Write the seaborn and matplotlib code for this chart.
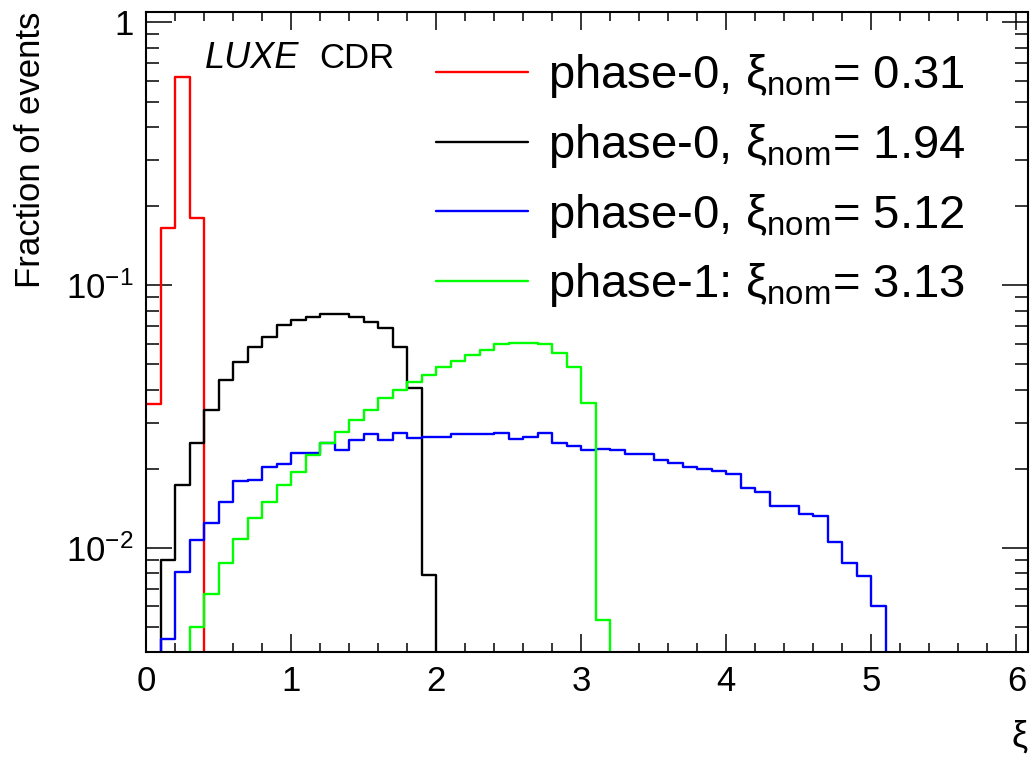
import numpy as np
import pandas as pd
import matplotlib
matplotlib.use("Agg")
import matplotlib.pyplot as plt
import seaborn as sns
from matplotlib.ticker import FixedLocator, FixedFormatter, MultipleLocator, LogLocator, NullFormatter

# xi histograms, bin width 0.1, values = fraction of events per bin
bin_width = 0.1
x_max = 6.08

red_start = 0.0
red_frac = [0.0353, 0.165, 0.62, 0.18]

black_start = 0.1
black_frac = [0.0090, 0.0174, 0.0251, 0.0335, 0.0435, 0.0510, 0.0581, 0.0634, 0.0704,
              0.0736, 0.0755, 0.0776, 0.0776, 0.0755, 0.0723, 0.0687, 0.0581, 0.0406, 0.0079]

blue_start = 0.1
blue_frac = [0.0045, 0.0081, 0.0107, 0.0125, 0.0150, 0.0180, 0.0182, 0.0203, 0.0209,
             0.0230, 0.0230, 0.0251, 0.0237, 0.0258, 0.0271, 0.0257, 0.0273, 0.0263, 0.0265,
             0.0265, 0.0271, 0.0271, 0.0271, 0.0273, 0.0261, 0.0265, 0.0273, 0.0250, 0.0244,
             0.0237, 0.0239, 0.0236, 0.0228, 0.0228, 0.0216, 0.0210, 0.0204, 0.0200, 0.0197,
             0.0191, 0.0169, 0.0163, 0.0144, 0.0144, 0.0135, 0.0132, 0.0105, 0.0088, 0.0078,
             0.0060]

green_start = 0.1
green_frac = [0.003, 0.003, 0.0050, 0.0067, 0.0088, 0.0108, 0.0130, 0.0150, 0.0174,
              0.0195, 0.0226, 0.0251, 0.0277, 0.0307, 0.0335, 0.0371, 0.0401, 0.0429, 0.0455,
              0.0488, 0.0515, 0.0542, 0.0569, 0.0597, 0.0605, 0.0605, 0.0597, 0.0553, 0.0489,
              0.0357, 0.0053]

labels = [r"phase-0, $\mathrm{\xi}_{\mathrm{nom}}$= 0.31",
          r"phase-0, $\mathrm{\xi}_{\mathrm{nom}}$= 1.94",
          r"phase-0, $\mathrm{\xi}_{\mathrm{nom}}$= 5.12",
          r"phase-1: $\mathrm{\xi}_{\mathrm{nom}}$= 3.13"]
colors = ["#ff0000", "#000000", "#0000ff", "#00ff00"]

y_ticks = [0.01, 0.1, 1]
y_ticklabels = [r"$10^{-2}$", r"$10^{-1}$", "1"]

sns.set_style("ticks")
plt.rcParams['font.family'] = ['Liberation Sans', 'DejaVu Sans']
plt.rcParams['mathtext.fontset'] = 'custom'
plt.rcParams['mathtext.rm'] = 'Liberation Sans'
plt.rcParams['mathtext.it'] = 'Liberation Sans:italic'
plt.rcParams['mathtext.bf'] = 'Liberation Sans:bold'
for key in ['text.color', 'axes.labelcolor', 'xtick.color', 'ytick.color', 'axes.edgecolor']:
    plt.rcParams[key] = 'black'

fig = plt.figure(figsize=(10.32, 7.6), dpi=100)
ax = fig.add_axes([0.1415, 0.1421, 0.8547, 0.8421])
ax.set_yscale('log')

edges = [round(i * bin_width, 2) for i in range(62)]

series = [(red_start, red_frac), (black_start, black_frac),
          (blue_start, blue_frac), (green_start, green_frac)]

for (start, frac), lab, col in zip(series, labels, colors):
    centers = start + bin_width / 2 + bin_width * np.arange(len(frac))
    df = pd.DataFrame({'xi': centers, 'frac': frac})
    sns.histplot(data=df, x='xi', weights='frac', bins=edges, element='step',
                 fill=False, color=col, linewidth=1.7, label=lab, ax=ax)

ax.set_xlim(0, x_max)
ax.set_ylim(0.00402, 1.096)

ax.xaxis.set_major_locator(MultipleLocator(1))
ax.xaxis.set_minor_locator(MultipleLocator(0.2))
ax.yaxis.set_major_locator(FixedLocator(y_ticks))
ax.yaxis.set_major_formatter(FixedFormatter(y_ticklabels))
ax.yaxis.set_minor_locator(LogLocator(base=10, subs=np.arange(2, 10)))
ax.yaxis.set_minor_formatter(NullFormatter())

ax.tick_params(which='both', direction='in', top=True, right=True, width=1.1, colors='black')
ax.tick_params(axis='x', which='major', length=13, pad=9, labelsize=25)
ax.tick_params(axis='x', which='minor', length=6.5)
ax.tick_params(axis='y', which='major', length=19, pad=9, labelsize=25)
ax.tick_params(axis='y', which='minor', length=9.5)
for sp in ax.spines.values():
    sp.set_linewidth(1.5)
    sp.set_color('black')

ax.set_xlabel(r"$\mathrm{\xi}$", fontsize=26, loc='right')
ax.xaxis.set_label_coords(1.0, -0.104)
ax.set_ylabel("Fraction of events", fontsize=25, loc='top')
ax.yaxis.set_label_coords(-0.112, 1.0)

ax.text(0.067, 0.912, "LUXE", style='italic', fontsize=26, transform=ax.transAxes)
ax.text(0.196, 0.912, "CDR", fontsize=25, transform=ax.transAxes)

ax.legend(loc='upper left', bbox_to_anchor=(0.329, 0.937), frameon=False, fontsize=34,
          handlelength=1.95, handletextpad=0.42, labelspacing=0.46, borderpad=0, borderaxespad=0)

fig.savefig("out.png", dpi=100)
